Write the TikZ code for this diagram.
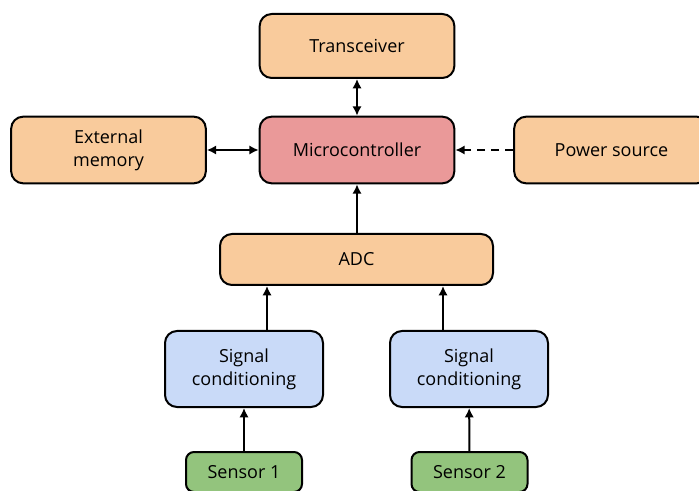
\documentclass[tikz,border=0pt]{standalone}
\usepackage{fontspec}
\setmainfont{Open Sans}
\usetikzlibrary{arrows.meta,calc}
\definecolor{peach}{HTML}{F9CB9C}
\definecolor{rose}{HTML}{EA9999}
\definecolor{skyblue}{HTML}{C9DAF8}
\definecolor{leaf}{HTML}{93C47D}
\tikzset{
  block/.style={draw=black, line width=1.5pt, rounded corners=9pt, align=center,
    font=\fontsize{13.5}{17}\selectfont, inner sep=0pt},
  bigbox/.style={block, minimum width=146pt, minimum height=50pt},
  link/.style={line width=1.5pt, -{Latex[length=7pt,width=7pt]}},
  duplex/.style={line width=1.5pt, {Latex[length=7pt,width=7pt]}-{Latex[length=7pt,width=7pt]}}
}
\begin{document}
\begin{tikzpicture}[x=0.75pt,y=-0.75pt]
  \clip (0,0) rectangle (699,491);
  \useasboundingbox (0,0) rectangle (699,491);
  \node[bigbox, fill=peach, minimum height=48pt] (trx) at (357,46) {Transceiver};
  \node[bigbox, fill=rose] (mcu) at (357,150) {Microcontroller};
  \node[bigbox, fill=peach] (mem) at (108.5,150) {External\\memory};
  \node[bigbox, fill=peach] (pwr) at (611.5,150) {Power source};
  \node[block, fill=peach, minimum width=204.75pt, minimum height=38.25pt] (adc) at (356.5,259.5) {ADC};
  \node[block, fill=skyblue, minimum width=118.5pt, minimum height=57pt] (sc1) at (244,369) {Signal\\conditioning};
  \node[block, fill=skyblue, minimum width=118.5pt, minimum height=57pt] (sc2) at (469,369) {Signal\\conditioning};
  \node[block, fill=leaf, minimum width=87pt, minimum height=30pt, rounded corners=6pt] (s1) at (244,472) {Sensor 1};
  \node[block, fill=leaf, minimum width=87pt, minimum height=30pt, rounded corners=6pt] (s2) at (469.5,472) {Sensor 2};

  \draw[duplex] (trx) -- (mcu);
  \draw[duplex] (mem) -- (mcu);
  \draw[link, dash pattern=on 6pt off 4.5pt] (pwr) -- (mcu);
  \draw[link] (adc.north -| mcu.south) -- (mcu.south);
  \coordinate (in1) at (267,0);
  \coordinate (in2) at (443,0);
  \draw[link] (sc1.north -| in1) -- (adc.south -| in1);
  \draw[link] (sc2.north -| in2) -- (adc.south -| in2);
  \draw[link] (s1) -- (sc1);
  \draw[link] (s2) -- (sc2);
\end{tikzpicture}
\end{document}
